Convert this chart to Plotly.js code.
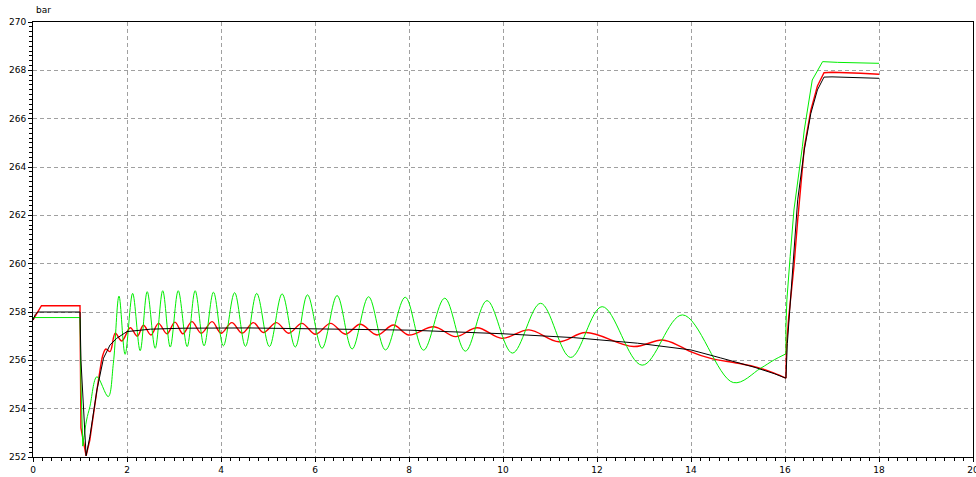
<!DOCTYPE html>
<html>
<head>
<meta charset="utf-8">
<script src="https://cdn.plot.ly/plotly-3.0.1.min.js"></script>
<style>
  html, body { margin: 0; padding: 0; background: #ffffff; }
  #chart { width: 976px; height: 477px; }
</style>
</head>
<body>
<div id="chart"></div>
<script>
// ---- Data (time in s, pressure in bar) ----
const blackT = [0, 0.05, 0.1, 1.0, 1.02, 1.13, 1.21, 1.36, 1.5, 1.64, 1.78, 2.0, 2.5, 3.2, 4.6, 6.0, 8.0, 10.0, 11.5, 12.86, 13.78, 14.0, 14.63, 15.34, 15.77, 16.02, 16.05, 16.12, 16.19, 16.27, 16.41, 16.55, 16.69, 16.83, 17.0, 17.61, 18.0];
const blackV = [257.67, 257.9, 258.0, 258.0, 256.0, 252.05, 252.84, 254.77, 256.09, 256.64, 256.91, 257.19, 257.29, 257.33, 257.34, 257.3, 257.25, 257.1, 256.94, 256.71, 256.5, 256.43, 256.1, 255.72, 255.45, 255.26, 256.7, 258.5, 260.57, 262.64, 264.7, 266.22, 267.19, 267.72, 267.73, 267.7, 267.67];

const redStepT = [0, 0.05, 0.1, 0.18, 1.0, 1.02, 1.13, 1.21, 1.36, 1.46];
const redStepV = [257.67, 257.85, 258.01, 258.26, 258.26, 253.2, 252.05, 252.71, 254.77, 256.02];
const redWaveT = [1.46, 1.55, 1.64, 1.75, 1.89, 2.07, 2.22, 2.35, 2.51, 2.67, 2.85, 3.02, 3.19, 3.38, 3.58, 3.81, 4.0, 4.23, 4.45, 4.69, 4.90, 5.18, 5.44, 5.72, 6.01, 6.33, 6.65, 6.96, 7.32, 7.67, 7.99, 8.53, 8.99, 9.45, 9.98, 10.55, 11.19, 11.76, 12.78, 13.39, 13.78, 13.99, 14.42, 15.0, 15.41, 15.77, 16.02];
const redWaveV = [256.02, 256.47, 256.36, 257.12, 256.8, 257.35, 257.0, 257.45, 257.05, 257.53, 257.1, 257.58, 257.1, 257.6, 257.12, 257.6, 257.12, 257.56, 257.13, 257.56, 257.15, 257.56, 257.12, 257.53, 257.08, 257.53, 257.08, 257.49, 257.05, 257.46, 257.05, 257.39, 256.98, 257.35, 256.91, 257.26, 256.77, 257.15, 256.57, 256.84, 256.57, 256.36, 256.08, 255.88, 255.71, 255.47, 255.26];
const redRiseT = [16.02, 16.03, 16.08, 16.19, 16.27, 16.41, 16.55, 16.69, 16.83, 17.0, 17.61, 18.0];
const redRiseV = [255.26, 256.57, 257.8, 259.88, 261.8, 264.8, 266.35, 267.35, 267.9, 267.92, 267.88, 267.84];

const greenStepT = [0, 1.0, 1.02, 1.06];
const greenStepV = [257.77, 257.77, 255.0, 252.45];
const greenWaveT = [1.06, 1.14, 1.21, 1.36, 1.6, 1.71, 1.83, 1.96, 2.12, 2.28, 2.43, 2.6, 2.76, 2.92, 3.09, 3.28, 3.45, 3.64, 3.84, 4.05, 4.29, 4.52, 4.76, 5.03, 5.30, 5.58, 5.84, 6.15, 6.47, 6.79, 7.14, 7.5, 7.92, 8.31, 8.76, 9.2, 9.66, 10.2, 10.80, 11.44, 12.11, 12.96, 13.82, 14.9, 15.48, 15.77, 16.0];
const greenWaveV = [252.45, 253.53, 254.08, 255.32, 254.5, 255.88, 258.66, 256.25, 258.77, 256.4, 258.84, 256.5, 258.88, 256.55, 258.88, 256.57, 258.88, 256.6, 258.82, 256.6, 258.8, 256.58, 258.77, 256.57, 258.75, 256.55, 258.71, 256.5, 258.68, 256.47, 258.63, 256.43, 258.61, 256.42, 258.57, 256.38, 258.47, 256.3, 258.36, 256.12, 258.22, 255.8, 257.88, 255.08, 255.67, 256.02, 256.25];
const greenRiseT = [16.0, 16.02, 16.02, 16.04, 16.11, 16.19, 16.37, 16.41, 16.58, 16.8, 17.12, 17.54, 18.0];
const greenRiseV = [256.25, 256.3, 257.39, 258.5, 260.3, 262.22, 264.84, 265.53, 267.6, 268.36, 268.33, 268.32, 268.29];

const xTickVals = [0, 2, 4, 6, 8, 10, 12, 14, 16, 18, 20];
const yTickVals = [252, 254, 256, 258, 260, 262, 264, 266, 268, 270];
const unitLabel = 'bar';

const RED = '#ff0000', GREEN = '#00ee00', BLACK = '#000000';

function tr(x, y, color, width, shape) {
  return { x: x, y: y, type: 'scatter', mode: 'lines',
           line: { color: color, width: width, shape: shape, smoothing: 1 },
           hoverinfo: 'skip', showlegend: false };
}

const data = [
  tr(redStepT, redStepV, RED, 1.4, 'linear'),
  tr(redWaveT, redWaveV, RED, 1.4, 'spline'),
  tr(redRiseT, redRiseV, RED, 1.4, 'linear'),
  tr(greenStepT, greenStepV, GREEN, 1, 'linear'),
  tr(greenWaveT, greenWaveV, GREEN, 1, 'spline'),
  tr(greenRiseT, greenRiseV, GREEN, 1, 'linear'),
  tr(blackT, blackV, BLACK, 1, 'linear')
];

const axisCommon = {
  showgrid: true, gridcolor: '#a0a0a0', griddash: '4px,3px', gridwidth: 1,
  showline: true, linecolor: '#000000', linewidth: 1, mirror: true,
  zeroline: false, ticks: 'outside', ticklen: 4, tickwidth: 1, tickcolor: '#000000',
  ticklabeloverflow: 'allow',
  tickfont: { family: 'DejaVu Sans, Tahoma, sans-serif', size: 9, color: '#000000' },
  fixedrange: true
};

const layout = {
  width: 976, height: 477,
  margin: { l: 33, r: 3, t: 22, b: 20, pad: 0 },
  paper_bgcolor: '#ffffff', plot_bgcolor: '#ffffff',
  xaxis: Object.assign({}, axisCommon, {
    range: [0, 20], tickmode: 'array', tickvals: xTickVals, ticktext: xTickVals.map(String),
    minor: { dtick: 0.2, tick0: 0, ticks: 'outside', ticklen: 3, tickcolor: '#000000', showgrid: false }
  }),
  yaxis: Object.assign({}, axisCommon, {
    range: [252, 270], tickmode: 'array', tickvals: yTickVals, ticktext: yTickVals.map(String),
    minor: { dtick: 0.2, tick0: 252, ticks: 'outside', ticklen: 3, tickcolor: '#000000', showgrid: false }
  }),
  annotations: [{
    text: unitLabel, xref: 'paper', yref: 'paper', x: 0, y: 1,
    xanchor: 'left', yanchor: 'bottom', xshift: 1, yshift: 5, showarrow: false,
    font: { family: 'DejaVu Sans, Tahoma, sans-serif', size: 9, color: '#000000' }
  }]
};

Plotly.newPlot('chart', data, layout, { staticPlot: true, displayModeBar: false });
</script>
</body>
</html>
